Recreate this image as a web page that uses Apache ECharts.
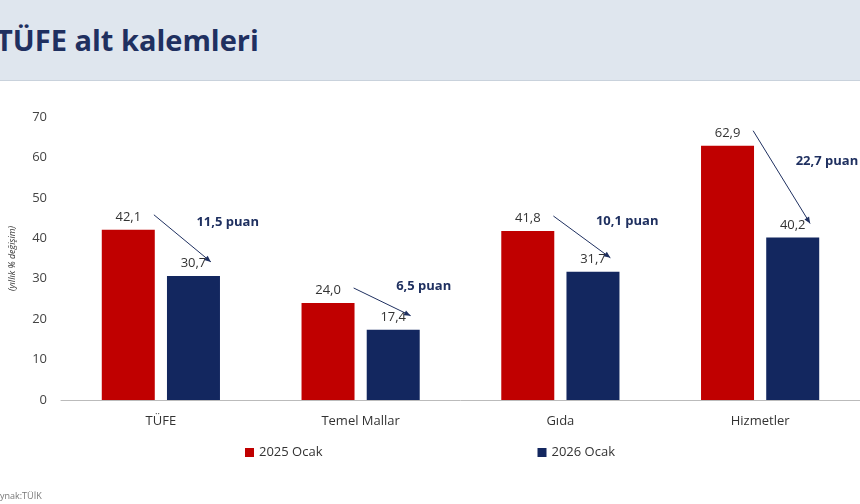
<!DOCTYPE html>
<html><head><meta charset="utf-8">
<script src="https://cdn.jsdelivr.net/npm/echarts@6/dist/echarts.min.js"></script>
<style>
html,body{margin:0;padding:0;background:#fff;}
#hdr{position:absolute;left:0;top:0;width:860px;height:80px;background:#dfe6ee;border-bottom:1px solid #c9d2dc;}
#hdr span{position:absolute;left:-4px;top:20px;font:bold 29px "Open Sans",sans-serif;color:#1f3060;}
#src{position:absolute;left:0;top:489px;font:9px "Open Sans",sans-serif;color:#777;}
#chart{position:absolute;left:0;top:0;width:860px;height:504px;}
</style></head>
<body>
<div id="hdr"><span>TÜFE alt kalemleri</span></div>
<div id="chart"></div>
<div id="src">ynak:TÜİK</div>
<script>
// kalemler
const categories = ['TÜFE', 'Temel Mallar', 'Gıda', 'Hizmetler'];
const ocak2025 = [42.1, 24.0, 41.8, 62.9];
const ocak2026 = [30.7, 17.4, 31.7, 40.2];
const puanLabels = ['11,5 puan', '6,5 puan', '10,1 puan', '22,7 puan'];
const fmt = v => v.toFixed(1).replace('.', ',');

const chart = echarts.init(document.getElementById('chart'));
const font = '"Open Sans", sans-serif';

chart.setOption({
  animation: false,
  textStyle: { fontFamily: font },
  grid: { left: 55, right: 0, top: 117, bottom: 104 },
  legend: {
    bottom: 40, left: 'center', itemGap: 215, itemWidth: 9, itemHeight: 9,
    icon: 'rect', textStyle: { fontSize: 13, color: '#333', fontFamily: font },
    data: ['2025 Ocak', '2026 Ocak']
  },
  xAxis: {
    type: 'category', data: categories,
    axisLine: { lineStyle: { color: '#bbb' } }, axisTick: { show: false },
    axisLabel: { fontSize: 13, color: '#333', margin: 15 }
  },
  yAxis: {
    type: 'value', min: 0, max: 70, interval: 10,
    name: '(yıllık % değişim)', nameLocation: 'middle', nameGap: 44, nameRotate: 90,
    nameTextStyle: { fontSize: 9, fontStyle: 'italic', color: '#333' },
    splitLine: { show: false }, axisLine: { show: false },
    axisLabel: { fontSize: 13, color: '#444', margin: 14 }
  },
  series: [
    {
      name: '2025 Ocak', type: 'bar', data: ocak2025, barWidth: 53, barGap: '23%',
      itemStyle: { color: '#c00000' },
      label: { show: true, position: 'top', formatter: p => fmt(p.value), fontSize: 13, color: '#333', distance: 6 }
    },
    {
      name: '2026 Ocak', type: 'bar', data: ocak2026, barWidth: 53,
      itemStyle: { color: '#13275f' },
      label: { show: true, position: 'top', formatter: p => fmt(p.value), fontSize: 13, color: '#333', distance: 6 }
    },
    {
      type: 'custom', silent: true, z: 10,
      data: categories.map((c, i) => [i, ocak2025[i], ocak2026[i]]),
      renderItem: function (params, api) {
        const a = api.coord([api.value(0), api.value(1)]);
        const b = api.coord([api.value(0), api.value(2)]);
        const x1 = a[0] - 7, y1 = a[1] - 15;
        const x2 = b[0] + 50, y2 = b[1] - 14;
        const ang = Math.atan2(y2 - y1, x2 - x1), h = 7;
        const p1 = [x2 - h * Math.cos(ang - 0.4), y2 - h * Math.sin(ang - 0.4)];
        const p2 = [x2 - h * Math.cos(ang + 0.4), y2 - h * Math.sin(ang + 0.4)];
        const mx = (x1 + x2) / 2, my = (y1 + y2) / 2;
        return {
          type: 'group', children: [
            { type: 'line', shape: { x1: x1, y1: y1, x2: x2, y2: y2 }, style: { stroke: '#1f3060', lineWidth: 1 } },
            { type: 'polygon', shape: { points: [[x2, y2], p1, p2] }, style: { fill: '#1f3060' } },
            { type: 'text', x: mx + 14, y: my - 16, style: { text: puanLabels[params.dataIndex], fill: '#1f3060', font: 'bold 13px ' + font, textVerticalAlign: 'middle' } }
          ]
        };
      }
    }
  ]
});
</script>
</body></html>
